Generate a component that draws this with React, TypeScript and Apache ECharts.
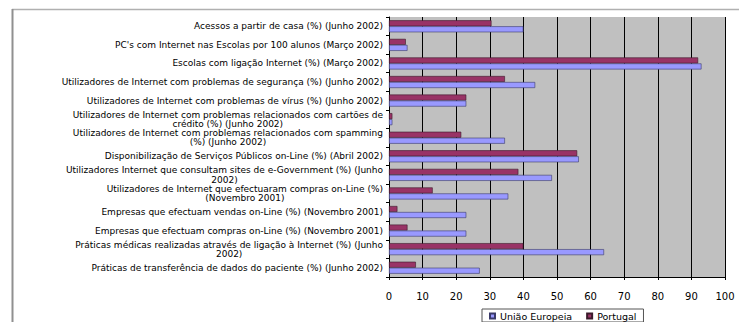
import React, { useEffect, useRef } from "react";
import * as echarts from "echarts";

// Indicator names (top to bottom), explicit line breaks where the label wraps
const categories: string[] = [
  "Acessos a partir de casa (%) (Junho 2002)",
  "PC's com Internet nas Escolas por 100 alunos (Março 2002)",
  "Escolas com ligação Internet (%) (Março 2002)",
  "Utilizadores de Internet com problemas de segurança (%) (Junho 2002)",
  "Utilizadores de Internet com problemas de vírus (%) (Junho 2002)",
  "Utilizadores de Internet com problemas relacionados com cartões de\ncrédito (%) (Junho 2002)",
  "Utilizadores de Internet com problemas relacionados com spamming\n(%) (Junho 2002)",
  "Disponibilização de Serviços Públicos on-Line (%) (Abril 2002)",
  "Utilizadores Internet que consultam sites de e-Government (%) (Junho\n2002)",
  "Utilizadores de Internet que efectuaram compras on-Line (%)\n(Novembro 2001)",
  "Empresas que efectuam vendas on-Line (%) (Novembro 2001)",
  "Empresas que efectuam compras on-Line (%) (Novembro 2001)",
  "Práticas médicas realizadas através de ligação à Internet (%) (Junho\n2002)",
  "Práticas de transferência de dados do paciente (%) (Junho 2002)",
];

const portugal: number[] = [30.5, 5, 92, 34.5, 23, 1, 21.5, 56, 38.5, 13, 2.5, 5.5, 40, 8];
const uniaoEuropeia: number[] = [40, 5.5, 93, 43.5, 23, 1, 34.5, 56.5, 48.5, 35.5, 23, 23, 64, 27];

const xTicks = { min: 0, max: 100, interval: 10 };

const FONT = "DejaVu Sans";
const LABEL_SIZE = 9;
const LABEL_LINE = 9.3;

export default function App() {
  const ref = useRef<HTMLDivElement>(null);

  useEffect(() => {
    if (!ref.current) return;
    const chart = echarts.init(ref.current, undefined, { renderer: "svg" });
    chart.setOption({
      animation: false,
      backgroundColor: "#ffffff",
      graphic: [
        {
          type: "line",
          shape: { x1: 12, y1: 9.5, x2: 739, y2: 9.5 },
          style: { stroke: "#b0b0b0", lineWidth: 1.5 },
          silent: true,
        },
        {
          type: "line",
          shape: { x1: 12.5, y1: 9, x2: 12.5, y2: 322 },
          style: { stroke: "#909090", lineWidth: 2 },
          silent: true,
        },
      ],
      grid: {
        left: 389,
        top: 17,
        width: 336,
        height: 260,
        show: true,
        backgroundColor: "#c0c0c0",
        borderWidth: 0,
      },
      legend: {
        data: ["União Europeia", "Portugal"],
        left: 482,
        top: 309,
        orient: "horizontal",
        itemWidth: 5,
        itemHeight: 5,
        itemGap: 14,
        icon: "rect",
        borderColor: "#555",
        borderWidth: 1,
        padding: [2, 7, 1, 7],
        textStyle: { fontFamily: FONT, fontSize: 9.5, lineHeight: 10, color: "#000" },
      },
      xAxis: {
        type: "value",
        min: xTicks.min,
        max: xTicks.max,
        interval: xTicks.interval,
        axisLine: { show: true, lineStyle: { color: "#000", width: 1 } },
        axisTick: { show: true, length: 3, lineStyle: { color: "#000" } },
        axisLabel: { fontFamily: FONT, fontSize: 10, color: "#000", margin: 14 },
        splitLine: { show: true, lineStyle: { color: "#000", width: 1 } },
      },
      yAxis: {
        type: "category",
        inverse: true,
        data: categories,
        axisLine: { show: true, lineStyle: { color: "#000", width: 1 } },
        axisTick: { show: true, length: 3, lineStyle: { color: "#000" } },
        axisLabel: {
          margin: 6,
          color: "#000",
          fontFamily: FONT,
          fontSize: LABEL_SIZE,
          lineHeight: LABEL_LINE,
          formatter: (v: string) =>
            v
              .split("\n")
              .map((l) => `{c|${l}}`)
              .join("\n"),
          rich: {
            c: {
              align: "center",
              fontFamily: FONT,
              fontSize: LABEL_SIZE,
              lineHeight: LABEL_LINE,
              color: "#000",
            },
          },
        },
      },
      series: [
        {
          name: "Portugal",
          type: "bar",
          data: portugal,
          barWidth: 6,
          barGap: "0%",
          itemStyle: { color: "#993366", borderColor: "#3a1a2a", borderWidth: 0.6 },
        },
        {
          name: "União Europeia",
          type: "bar",
          data: uniaoEuropeia,
          barWidth: 6,
          barGap: "0%",
          itemStyle: { color: "#9999ff", borderColor: "#3a3a6a", borderWidth: 0.6 },
        },
      ],
    });
    return () => chart.dispose();
  }, []);

  return (
    <div
      ref={ref}
      style={{ position: "fixed", left: 0, top: 0, width: 739, height: 322 }}
    />
  );
}
